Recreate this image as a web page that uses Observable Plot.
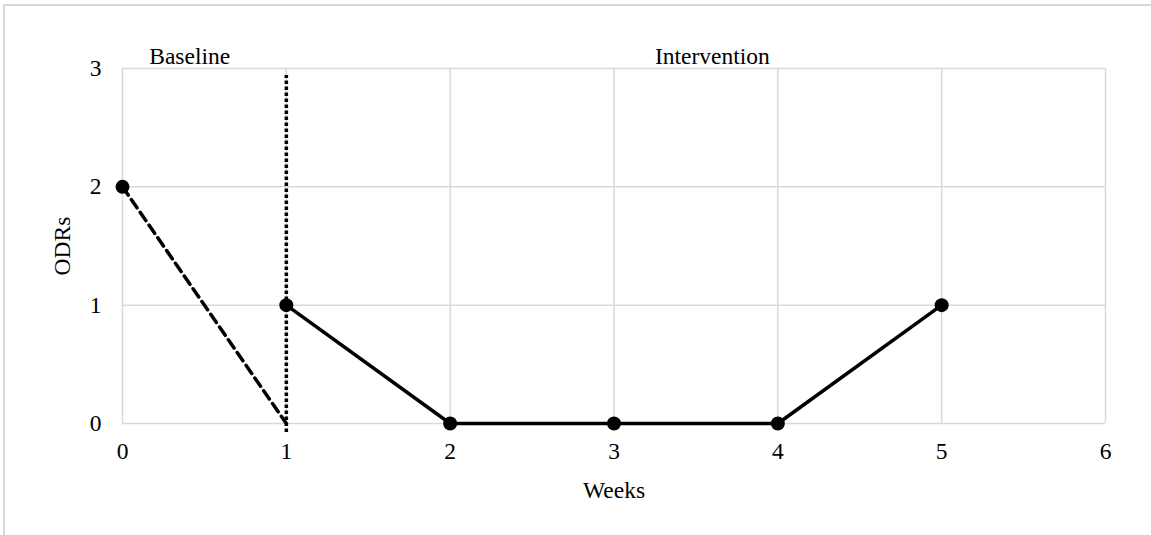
<!DOCTYPE html>
<html>
<head>
<meta charset="utf-8">
<script src="https://cdn.jsdelivr.net/npm/d3@7"></script>
<script src="https://cdn.jsdelivr.net/npm/@observablehq/plot@0.6"></script>
<style>
  html, body { margin: 0; padding: 0; background: #fff; }
  #wrap { position: relative; width: 1151px; height: 535px; overflow: hidden; }
  #border { position: absolute; left: 3px; top: 4px; width: 1200px; height: 600px; border: 2px solid #d9d9d9; box-sizing: border-box; }
  #chart { position: absolute; left: 0; top: 0; }
</style>
</head>
<body>
<div id="wrap"><div id="border"></div><div id="chart"></div></div>
<script>
const xTicks = [0, 1, 2, 3, 4, 5, 6];
const yTicks = [0, 1, 2, 3];
const baselineWeeks = [0, 1];
const baselineODRs = [2, 0];
const interventionWeeks = [1, 2, 3, 4, 5];
const interventionODRs = [1, 0, 0, 0, 1];
const phaseChangeWeek = [1];
const phaseNames = ["Baseline", "Intervention"];
const phaseLabelWeeks = [0.41, 3.6];

const baseline = baselineWeeks.map((w, i) => ({week: w, odrs: baselineODRs[i]}));
const intervention = interventionWeeks.map((w, i) => ({week: w, odrs: interventionODRs[i]}));
const phases = phaseNames.map((n, i) => ({name: n, week: phaseLabelWeeks[i]}));

const font = "'Liberation Serif', 'Times New Roman', serif";
const grid = "#d9d9d9";
const fs = 23.5;

const chart = Plot.plot({
  width: 1151,
  height: 535,
  marginLeft: 122,
  marginRight: 46,
  marginTop: 68,
  marginBottom: 112,
  style: {fontFamily: font, fontSize: fs + "px", color: "#000", background: "transparent"},
  x: {domain: [0, 6], ticks: xTicks},
  y: {domain: [0, 3], ticks: yTicks},
  marks: [
    Plot.ruleX(xTicks, {stroke: grid, strokeWidth: 1.5}),
    Plot.ruleY(yTicks, {stroke: grid, strokeWidth: 1.5}),
    Plot.axisX({ticks: xTicks, tickFormat: "d", tickSize: 0, tickPadding: 19, label: null, fontSize: fs}),
    Plot.axisY({ticks: yTicks, tickFormat: "d", tickSize: 0, tickPadding: 21, label: null, fontSize: fs}),
    Plot.text(["Weeks"], {frameAnchor: "bottom", dy: 67, fontSize: fs, lineAnchor: "middle"}),
    Plot.text(["ODRs"], {frameAnchor: "left", dx: -60, rotate: -90, fontSize: fs, textAnchor: "middle", lineAnchor: "middle"}),
    Plot.text(phases, {x: "week", y: 3, text: "name", dy: -12, fontSize: fs, lineAnchor: "middle"}),
    Plot.ruleX(phaseChangeWeek, {y1: 0, y2: 3, stroke: "#000", strokeWidth: 3.5, strokeDasharray: "3.5,2.5", insetBottom: -7, insetTop: 9}),
    Plot.line(baseline, {x: "week", y: "odrs", stroke: "#000", strokeWidth: 3.5, strokeDasharray: "10,5.5"}),
    Plot.line(intervention, {x: "week", y: "odrs", stroke: "#000", strokeWidth: 3.5}),
    Plot.dot(baseline.filter((d, i) => i === 0), {x: "week", y: "odrs", r: 7, fill: "#000", stroke: "none"}),
    Plot.dot(intervention, {x: "week", y: "odrs", r: 7, fill: "#000", stroke: "none"})
  ]
});
document.getElementById("chart").appendChild(chart);
</script>
</body>
</html>
